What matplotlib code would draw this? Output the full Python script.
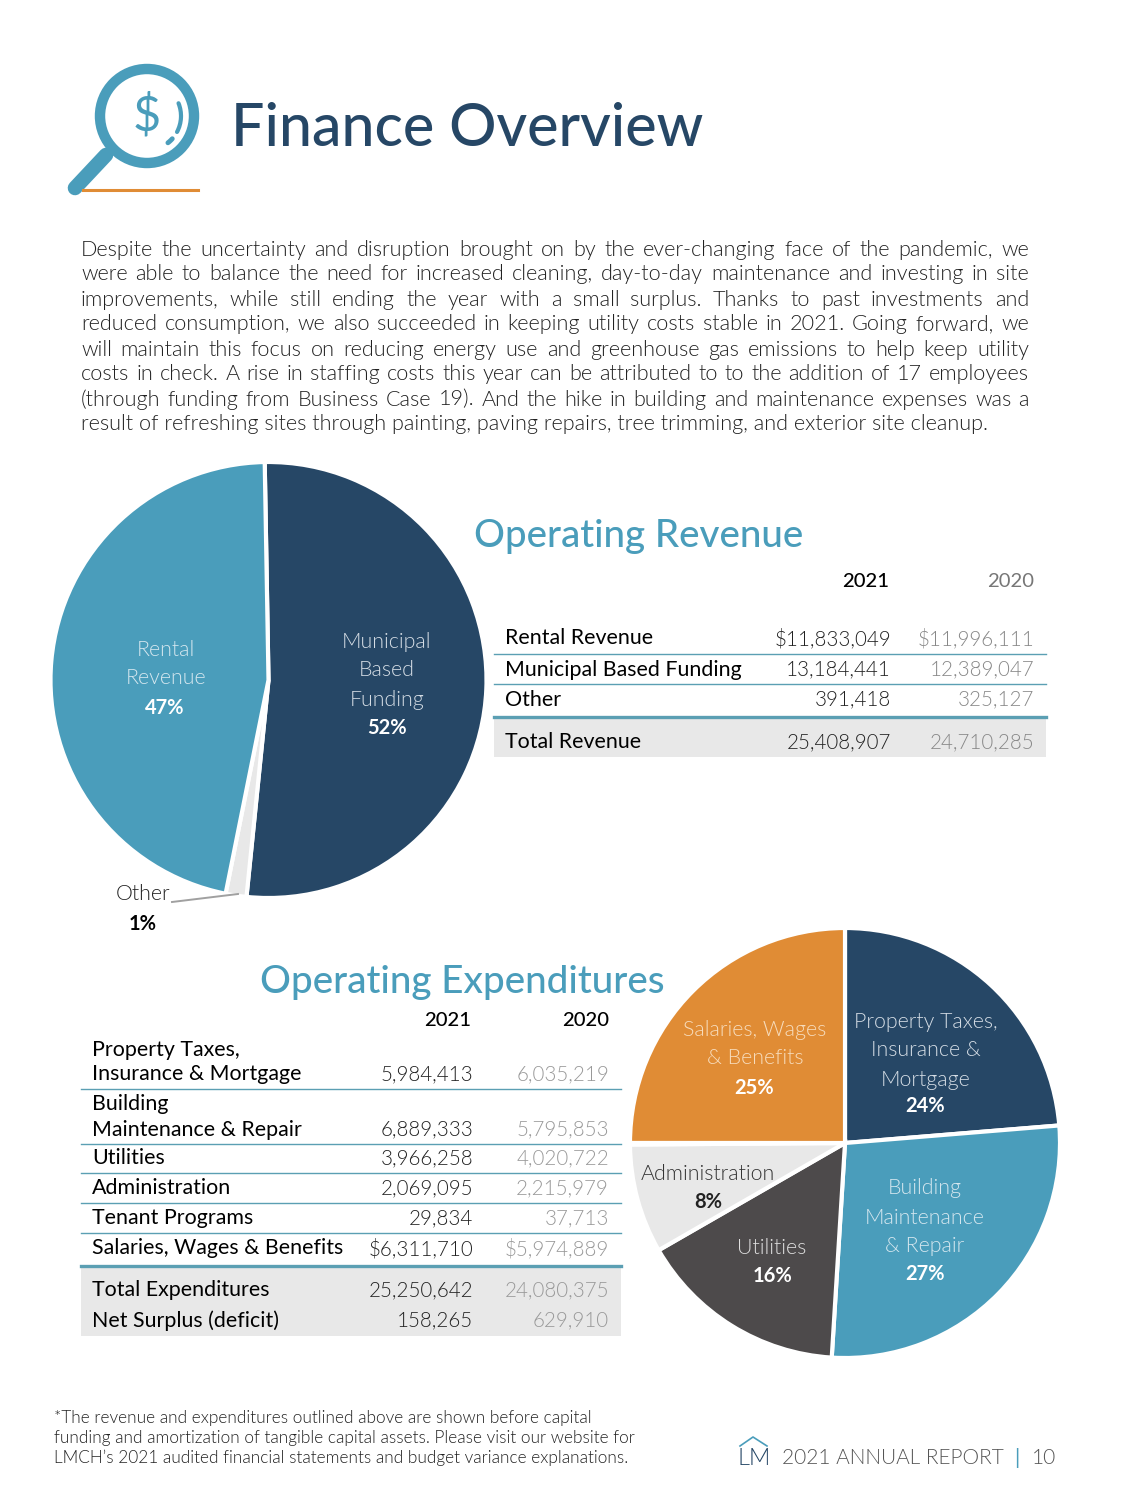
"""
Finance Overview report page: two pies and two tables, laid out in page pixels.
"""
import matplotlib
matplotlib.use("Agg")
import matplotlib.pyplot as plt
from matplotlib.patches import Arc, Circle, Rectangle

plt.rcParams["font.family"] = ["Lato", "DejaVu Sans"]

NAVY = "#264766"
TEAL = "#4a9dbb"
ORANGE = "#e08c35"
GREY = "#e8e8e8"
CHAR = "#4d4a4b"
RULE = "#5b9fb3"
W, H = 1125, 1500
LIGHT = 300
VAL = 14.8

# data
body_lines = [
    "Despite the uncertainty and disruption brought on by the ever-changing face of the pandemic, we",
    "were able to balance the need for increased cleaning, day-to-day maintenance and investing in site",
    "improvements, while still ending the year with a small surplus. Thanks to past investments and",
    "reduced consumption, we also succeeded in keeping utility costs stable in 2021. Going forward, we",
    "will maintain this focus on reducing energy use and greenhouse gas emissions to help keep utility",
    "costs in check. A rise in staffing costs this year can be attributed to to the addition of 17 employees",
    "(through funding from Business Case 19). And the hike in building and maintenance expenses was a",
    "result of refreshing sites through painting, paving repairs, tree trimming, and exterior site cleanup.",
]
rev_labels = ["Rental Revenue", "Municipal Based Funding", "Other"]
rev_2021 = [11833049, 13184441, 391418]
rev_2020 = [11996111, 12389047, 325127]
rev_total = [25408907, 24710285]

exp_labels = ["Property Taxes,\nInsurance & Mortgage", "Building\nMaintenance & Repair",
              "Utilities", "Administration", "Tenant Programs", "Salaries, Wages & Benefits"]
exp_2021 = [5984413, 6889333, 3966258, 2069095, 29834, 6311710]
exp_2020 = [6035219, 5795853, 4020722, 2215979, 37713, 5974889]
exp_total = [25250642, 24080375]
exp_surplus = [158265, 629910]

footnote = [
    "*The revenue and expenditures outlined above are shown before capital",
    "funding and amortization of tangible capital assets. Please visit our website for",
    "LMCH\u2019s 2021 audited financial statements and budget variance explanations.",
]

fig = plt.figure(figsize=(W / 100, H / 100), dpi=100, facecolor="white")


def pie_axes(cx, cy, r):
    a = fig.add_axes([(cx - r) / W, 1 - (cy + r) / H, 2 * r / W, 2 * r / H])
    return a


# revenue pie
ax1 = pie_axes(268.5, 680, 218)
ax1.pie([rev_2021[1], rev_2021[2], rev_2021[0]], colors=[NAVY, GREY, TEAL], startangle=91,
        counterclock=False, radius=1, frame=True,
        wedgeprops={"edgecolor": "white", "linewidth": 3})
ax1.set_xlim(-1, 1)
ax1.set_ylim(-1, 1)
ax1.axis("off")

# expenditure pie
ax2 = pie_axes(845, 1143, 215)
ax2.pie(exp_2021, colors=[NAVY, TEAL, CHAR, GREY, "white", ORANGE], startangle=90,
        counterclock=False, radius=1, frame=True,
        wedgeprops={"edgecolor": "white", "linewidth": 3})
ax2.set_xlim(-1, 1)
ax2.set_ylim(-1, 1)
ax2.axis("off")

# page overlay in pixel coordinates
ax = fig.add_axes([0, 0, 1, 1], facecolor="none")
ax.set_xlim(0, W)
ax.set_ylim(H, 0)
ax.axis("off")


def t(x, y, s, size=15.4, color="black", ha="left", weight="normal", **kw):
    return ax.text(x, y + 1.5, s, fontsize=size, color=color, ha=ha, va="center",
                   fontweight=weight, **kw)


# header icon
ax.add_patch(Circle((147, 116), 47, fill=False, edgecolor=TEAL, linewidth=7.5))
ax.plot([106, 75], [155, 188], color=TEAL, lw=10.5, solid_capstyle="round")
ax.plot([83, 198], [190, 190], color=ORANGE, lw=2.2)
ax.add_patch(Arc((147, 116), 68, 68, theta1=-22, theta2=28, edgecolor=TEAL, lw=3, capstyle="round"))
ax.add_patch(Arc((147, 116), 68, 68, theta1=42, theta2=52, edgecolor=TEAL, lw=3.5, capstyle="round"))
t(147, 114, "$", size=35, color=TEAL, ha="center")
t(231, 128, "Finance Overview", size=42.6, color=NAVY, weight="medium")

# justified body text
renderer = fig.canvas.get_renderer()
for i, line in enumerate(body_lines):
    y = 248 + i * 25
    if i == len(body_lines) - 1:
        t(81, y, line, size=15.6, color="#222222", weight=LIGHT)
        continue
    words = line.split(" ")
    widths = []
    for w in words:
        tmp = t(0, y, w, size=15.6, weight=LIGHT)
        widths.append(tmp.get_window_extent(renderer).width)
        tmp.remove()
    gap = (1029 - 81 - sum(widths)) / (len(words) - 1)
    x = 81
    for w, wd in zip(words, widths):
        t(x, y, w, size=15.6, color="#222222", weight=LIGHT)
        x += wd + gap

# revenue table
t(474, 535, "Operating Revenue", size=27.7, color=TEAL, weight="medium")
t(889, 580, "2021", size=14.6, ha="right", weight="medium")
t(1034, 580, "2020", size=14.6, color="#777777", ha="right")
ax.add_patch(Rectangle((494, 717), 552, 40, facecolor=GREY, edgecolor="none"))
for yl in [654, 684]:
    ax.plot([494, 1046], [yl, yl], color=RULE, lw=1)
ax.plot([494, 1046], [717, 717], color=RULE, lw=2.4)
for i, (lab, a, b, y) in enumerate(zip(rev_labels, rev_2021, rev_2020, [637, 668, 698])):
    pre = "$" if i == 0 else ""
    t(505, y, lab)
    t(891, y, f"{pre}{a:,}", size=VAL, color="#222222", ha="right", weight=LIGHT)
    t(1034, y, f"{pre}{b:,}", size=VAL, color="#888888", ha="right", weight=LIGHT)
t(505, 741, "Total Revenue")
t(891, 741, f"{rev_total[0]:,}", size=VAL, color="#222222", ha="right", weight=LIGHT)
t(1034, 741, f"{rev_total[1]:,}", size=VAL, color="#888888", ha="right", weight=LIGHT)

# expenditure table
t(260, 981, "Operating Expenditures", size=27.8, color=TEAL, weight="medium")
t(471, 1019, "2021", size=14.6, ha="right", weight="medium")
t(609, 1019, "2020", size=14.6, ha="right", weight="medium")
ax.add_patch(Rectangle((81, 1266), 540, 70, facecolor=GREY, edgecolor="none"))
for yl in [1089, 1144, 1173, 1203, 1233]:
    ax.plot([81, 621], [yl, yl], color=RULE, lw=1)
ax.plot([81, 621], [1266, 1266], color=RULE, lw=2.4)
exp_y = [1073, 1128, 1157, 1187, 1217, 1247]
for i, (lab, a, b, y) in enumerate(zip(exp_labels, exp_2021, exp_2020, exp_y)):
    pre = "$" if i == 5 else ""
    parts = lab.split("\n")
    for k, part in enumerate(parts):
        t(92, y - 25 * (len(parts) - 1 - k), part)
    t(473, y, f"{pre}{a:,}", size=VAL, color="#222222", ha="right", weight=LIGHT)
    t(609, y, f"{pre}{b:,}", size=VAL, color="#999999", ha="right", weight=LIGHT)
for lab, vals, y in [("Total Expenditures", exp_total, 1289), ("Net Surplus (deficit)", exp_surplus, 1319)]:
    t(92, y, lab)
    t(473, y, f"{vals[0]:,}", size=VAL, color="#222222", ha="right", weight=LIGHT)
    t(609, y, f"{vals[1]:,}", size=VAL, color="#999999", ha="right", weight=LIGHT)

# pie labels, revenue
for s, y in [("Rental", 648), ("Revenue", 677)]:
    t(166, y, s, color="#d5e7ef", ha="center", weight=LIGHT)
t(165, 706, "47%", size=14.5, color="white", ha="center", weight="bold")
for s, y in [("Municipal", 640), ("Based", 669), ("Funding", 699)]:
    t(387, y, s, color="#d5dde5", ha="center", weight=LIGHT)
t(387, 727, "52%", size=14.5, color="white", ha="center", weight="bold")
t(116, 893, "Other", color="#222222", weight=LIGHT)
t(143, 922, "1%", size=14.5, color="black", ha="center", weight="bold")
ax.plot([172, 238], [902, 894], color="#a0a0a0", lw=1.4)

# pie labels, expenditures
for s, y in [("Property Taxes,", 1020), ("Insurance &", 1049), ("Mortgage", 1078)]:
    t(926, y, s, color="#d5dde5", ha="center", weight=LIGHT)
t(925, 1105, "24%", size=14.5, color="white", ha="center", weight="bold")
for s, y in [("Building", 1187), ("Maintenance", 1216), ("& Repair", 1245)]:
    t(925, y, s, color="#d5e7ef", ha="center", weight=LIGHT)
t(925, 1272, "27%", size=14.5, color="white", ha="center", weight="bold")
t(772, 1246, "Utilities", color="#e0e0e0", ha="center", weight=LIGHT)
t(773, 1275, "16%", size=14.5, color="white", ha="center", weight="bold")
t(708, 1172, "Administration", color="#333333", ha="center", weight=LIGHT)
t(708, 1201, "8%", size=14.5, color="#222222", ha="center", weight="bold")
for s, y in [("Salaries, Wages", 1028), ("& Benefits", 1056)]:
    t(755, y, s, color="#f7dcbc", ha="center", weight=LIGHT)
t(754, 1086, "25%", size=14.5, color="white", ha="center", weight="bold")

# footer
for i, s in enumerate(footnote):
    t(54, 1416 + i * 20, s, size=12.45, color="#222222", weight=LIGHT)
t(738, 1457, "LM", size=17, color=NAVY, weight=LIGHT)
ax.plot([740, 753, 767], [1446, 1437, 1446], color=TEAL, lw=1.2)
t(782, 1457, "2021 ANNUAL REPORT", size=15, color="#555555", weight=LIGHT)
t(1017, 1456, "|", size=15, color=TEAL, ha="center")
t(1032, 1457, "10", size=15, color="#555555", weight=LIGHT)

fig.savefig("out.png", dpi=100, facecolor="white")
